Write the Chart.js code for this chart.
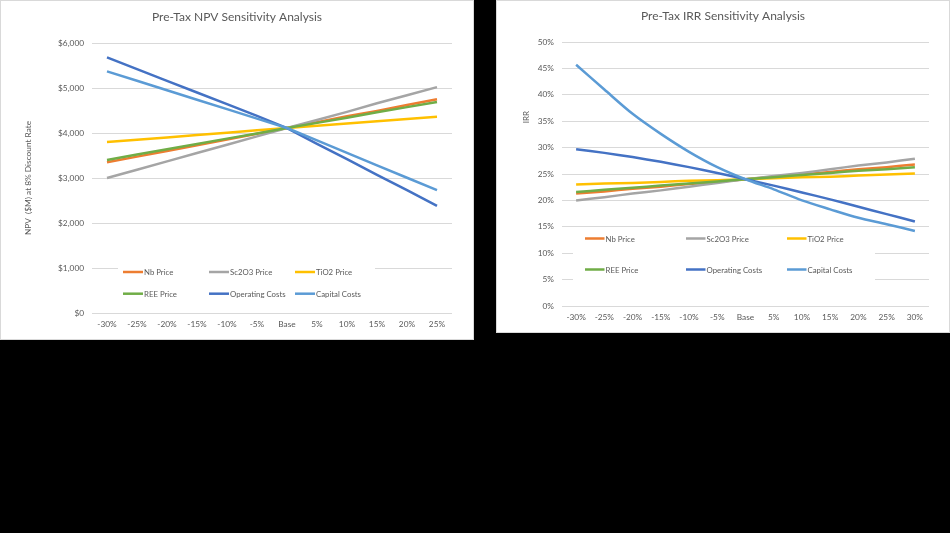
<!DOCTYPE html>
<html>
<head>
<meta charset="utf-8">
<script src="https://cdn.jsdelivr.net/npm/chart.js@4.4.0/dist/chart.umd.min.js"></script>
<style>
    body { margin: 0; width: 950px; height: 533px; background: #000; overflow: hidden; }
    .panel { position: absolute; top: 0; background: #fff; box-shadow: inset 0 0 0 1px #d9d9d9; }
    #npv-box { left: 0; width: 474px; height: 340px; }
    #irr-box { left: 496px; width: 454px; height: 333px; }
</style>
</head>
<body>
<div class="panel" id="npv-box"><canvas id="npvChart"></canvas></div>
<div class="panel" id="irr-box"><canvas id="irrChart"></canvas></div>

<script>
// 범주 (민감도 변화율)
const npvLabels = ['-30%', '-25%', '-20%', '-15%', '-10%', '-5%', 'Base', '5%', '10%', '15%', '20%', '25%'];
const irrLabels = ['-30%', '-25%', '-20%', '-15%', '-10%', '-5%', 'Base', '5%', '10%', '15%', '20%', '25%', '30%'];
const seriesNames = ['Nb Price', 'Sc2O3 Price', 'TiO2 Price', 'REE Price', 'Operating Costs', 'Capital Costs'];

// NPV ($M)
const npvNb    = [3350, 3475, 3600, 3730, 3855, 3985, 4110, 4240, 4370, 4490, 4620, 4750];
const npvSc2O3 = [3000, 3185, 3370, 3555, 3740, 3925, 4110, 4290, 4470, 4660, 4840, 5020];
const npvTiO2  = [3800, 3850, 3900, 3955, 4005, 4060, 4110, 4160, 4210, 4260, 4310, 4360];
const npvREE   = [3400, 3520, 3640, 3755, 3875, 3990, 4110, 4225, 4340, 4460, 4575, 4690];
const npvOpex  = [5680, 5420, 5160, 4900, 4640, 4380, 4110, 3760, 3420, 3070, 2730, 2380];
const npvCapex = [5370, 5160, 4950, 4740, 4530, 4320, 4110, 3835, 3560, 3280, 3005, 2730];

// IRR (%)
const irrNb    = [21.3, 21.7, 22.2, 22.6, 23.1, 23.5, 24.0, 24.5, 24.9, 25.4, 25.9, 26.3, 26.8];
const irrSc2O3 = [20.0, 20.6, 21.3, 21.9, 22.6, 23.3, 24.0, 24.6, 25.2, 25.9, 26.6, 27.2, 27.9];
const irrTiO2  = [23.0, 23.2, 23.3, 23.5, 23.7, 23.8, 24.0, 24.2, 24.4, 24.5, 24.7, 24.9, 25.1];
const irrREE   = [21.6, 22.0, 22.4, 22.8, 23.2, 23.6, 24.0, 24.4, 24.8, 25.2, 25.6, 25.9, 26.3];
const irrOpex  = [29.7, 29.0, 28.2, 27.3, 26.3, 25.2, 24.0, 22.8, 21.5, 20.2, 18.8, 17.4, 16.0];
const irrCapex = [45.7, 41.0, 36.4, 32.6, 29.2, 26.3, 24.0, 22.1, 20.0, 18.3, 16.7, 15.5, 14.2];

const npvTicks = [0, 1000, 2000, 3000, 4000, 5000, 6000];
const irrTicks = [0, 5, 10, 15, 20, 25, 30, 35, 40, 45, 50];

const seriesColors = ['#ED7D31', '#A5A5A5', '#FFC000', '#70AD47', '#4472C4', '#5B9BD5'];
const textColor = '#595959';
const fontFamily = 'Lato, "Open Sans", sans-serif';

// 제목, 차트 영역 안쪽 범례, 세로축 제목을 그리는 플러그인
const insideLegend = {
    id: 'insideLegend',
    beforeDatasetsDraw(chart, args, o) {
        const ctx = chart.ctx;
        ctx.save();
        ctx.fillStyle = '#fff';
        ctx.fillRect(o.box[0], o.box[1], o.box[2], o.box[3]);
        ctx.font = `${o.fontSize}px ${fontFamily}`;
        ctx.textBaseline = 'middle';
        chart.data.datasets.forEach((ds, i) => {
            const x = o.x + (i % 3) * o.colW;
            const y = o.y + Math.floor(i / 3) * o.rowH;
            ctx.strokeStyle = ds.borderColor;
            ctx.lineWidth = 2.5;
            ctx.beginPath();
            ctx.moveTo(x, y);
            ctx.lineTo(x + o.lineW, y);
            ctx.stroke();
            ctx.fillStyle = textColor;
            ctx.fillText(ds.label, x + o.lineW + 1, y + 0.5);
        });

        // 제목: 캔버스 전체 폭 기준 가운데
        ctx.textAlign = 'center';
        ctx.font = `12px ${fontFamily}`;
        ctx.fillText(o.title, chart.width / 2, o.titleY);

        if (o.yTitle) {
            ctx.translate(o.yTitle.x, o.yTitle.y);
            ctx.rotate(-Math.PI / 2);
            ctx.font = `8px ${fontFamily}`;
            ctx.fillText(o.yTitle.text, 0, 0);
        }
        ctx.restore();
    }
};

function buildChart(canvasId, labels, seriesData, cfg) {
    const datasets = seriesData.map((data, i) => ({
        label: seriesNames[i],
        data,
        borderColor: seriesColors[i],
        backgroundColor: seriesColors[i],
        borderWidth: 2.5,
        pointRadius: 0,
        tension: cfg.tension,
        fill: false,
        order: seriesData.length - i
    }));

    return new Chart(document.getElementById(canvasId), {
        type: 'line',
        data: { labels, datasets },
        plugins: [insideLegend],
        options: {
            responsive: true,
            maintainAspectRatio: false,
            animation: false,
            layout: { padding: { left: 0, right: cfg.padRight, top: cfg.padTop, bottom: 0 } },
            scales: {
                x: {
                    offset: true,
                    grid: { display: false, drawTicks: false },
                    border: { display: false },
                    ticks: { color: textColor, font: { family: fontFamily, size: 8.3 }, padding: 6, maxRotation: 0, autoSkip: false },
                    afterFit: s => { s.height = cfg.xHeight; }
                },
                y: {
                    min: cfg.ticks[0],
                    max: cfg.ticks[cfg.ticks.length - 1],
                    afterBuildTicks: s => { s.ticks = cfg.ticks.map(v => ({ value: v })); },
                    grid: { color: '#d9d9d9', lineWidth: 1, drawTicks: false },
                    border: { display: false },
                    ticks: { color: textColor, font: { family: fontFamily, size: 8.3 }, padding: 8, callback: cfg.tickFormat },
                    title: cfg.yTitle
                        ? { display: true, text: cfg.yTitle, color: textColor, font: { family: fontFamily, size: 8.3 }, padding: { top: 23, bottom: 0 } }
                        : { display: false },
                    afterFit: s => { s.width = cfg.yWidth; }
                }
            },
            plugins: {
                legend: { display: false },
                tooltip: { enabled: false },
                title: { display: false },
                insideLegend: cfg.legend
            }
        }
    });
}

buildChart('npvChart', npvLabels, [npvNb, npvSc2O3, npvTiO2, npvREE, npvOpex, npvCapex], {
    yTitle: 'NPV  ($M) at 8% Discount Rate',
    ticks: npvTicks,
    tickFormat: v => '$' + v.toLocaleString('en-US'),
    tension: 0,
    padRight: 22,
    padTop: 43,
    yWidth: 92,
    xHeight: 27,
    legend: { title: 'Pre-Tax NPV Sensitivity Analysis', titleY: 17,
              box: [118, 258, 257, 45], x: 123, y: 272, colW: 86, rowH: 21.7, lineW: 20, fontSize: 7.8 }
});

buildChart('irrChart', irrLabels, [irrNb, irrSc2O3, irrTiO2, irrREE, irrOpex, irrCapex], {
    yTitle: null,
    ticks: irrTicks,
    tickFormat: v => v + '%',
    tension: 0.3,
    padRight: 21,
    padTop: 42,
    yWidth: 66,
    xHeight: 27,
    legend: { title: 'Pre-Tax IRR Sensitivity Analysis', titleY: 16,
              box: [77, 230, 302, 55], x: 89, y: 238.5, colW: 101, rowH: 31, lineW: 19.5, fontSize: 7.8,
              yTitle: { text: 'IRR', x: 30, y: 117 } }
});
</script>
</body>
</html>
